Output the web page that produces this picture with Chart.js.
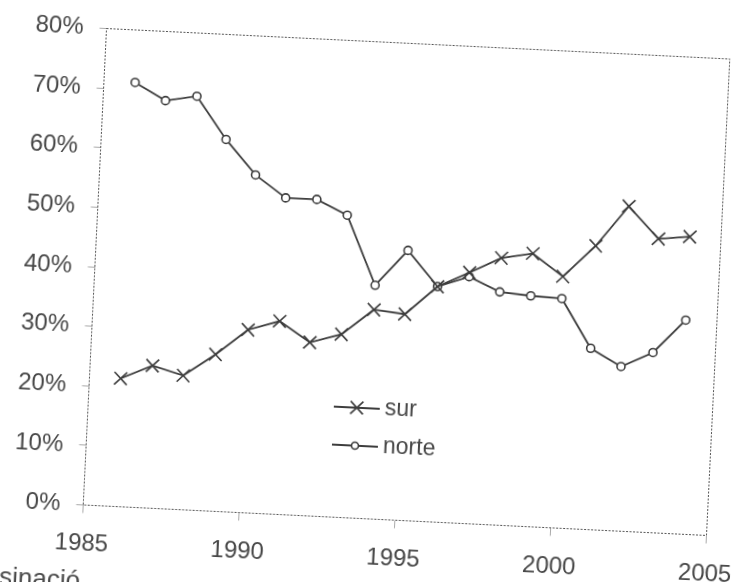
<!DOCTYPE html>
<html>
<head>
<meta charset="utf-8">
<script src="https://cdn.jsdelivr.net/npm/chart.js@4/dist/chart.umd.min.js"></script>
<style>
  html, body { margin: 0; padding: 0; background: #fff; overflow: hidden; width: 736px; height: 582px; }
  #wrap { position: absolute; left: 0; top: 0; width: 800px; height: 640px;
          transform: rotate(2.8deg); transform-origin: 406.5px 282px; }
  #note { position: absolute; left: 0; top: 561px; font: 26px "Liberation Sans", Arial, sans-serif;
          color: #4a4a4a; transform: rotate(2.8deg); transform-origin: 0 0; white-space: nowrap; }
</style>
</head>
<body>
<div id="wrap"><canvas id="chart" width="800" height="640"></canvas></div>
<div id="note">sinació</div>
<script>
const years = [1986, 1987, 1988, 1989, 1990, 1991, 1992, 1993, 1994, 1995,
               1996, 1997, 1998, 1999, 2000, 2001, 2002, 2003, 2004];
const sur = [21.5, 23.9, 22.5, 26.3, 30.7, 32.4, 29.1, 30.7, 35.1, 34.6,
             39.5, 42.1, 44.8, 45.8, 42.2, 47.6, 54.5, 49.3, 49.9];
const norte = [71.2, 68.4, 69.4, 62.4, 56.7, 53.1, 53.1, 50.7, 39.2, 45.3,
               39.5, 41.4, 39.1, 38.7, 38.5, 30.4, 27.6, 30.2, 35.9];
const xTicks = [1985, 1990, 1995, 2000, 2005];
const yTicks = [0, 10, 20, 30, 40, 50, 60, 70, 80];

const textColor = "#474747";
const lineColor = "#3d3d3d";
const font = { family: "'Liberation Sans', Arial, sans-serif", size: 24 };

// dotted frame around the plot area
const framePlugin = {
  id: "frame",
  beforeDatasetsDraw(chart) {
    const { ctx, chartArea: a } = chart;
    ctx.save();
    ctx.strokeStyle = "#555";
    ctx.lineWidth = 1;
    ctx.setLineDash([2, 1.5]);
    ctx.strokeRect(a.left, a.top, a.right - a.left, a.bottom - a.top);
    ctx.restore();
  }
};

// legend drawn inside the plot, line with marker like the original
const legendPlugin = {
  id: "insideLegend",
  afterDraw(chart) {
    const ctx = chart.ctx;
    ctx.save();
    chart.data.datasets.forEach((d, i) => {
      const y = 410 + i * 38;
      const x0 = 340, x1 = 386;
      ctx.strokeStyle = d.borderColor;
      ctx.lineWidth = d.borderWidth;
      ctx.beginPath();
      ctx.moveTo(x0, y);
      ctx.lineTo(x1, y);
      ctx.stroke();
      ctx.fillStyle = d.pointBackgroundColor;
      ctx.strokeStyle = d.pointBorderColor;
      ctx.lineWidth = d.pointBorderWidth;
      Chart.helpers.drawPoint(ctx, {
        pointStyle: d.pointStyle,
        radius: d.pointStyle === "circle" ? 3.5 : d.pointRadius,
        borderWidth: d.pointBorderWidth,
        rotation: 0
      }, (x0 + x1) / 2, y);
      ctx.fillStyle = textColor;
      ctx.font = "23px 'Liberation Sans', Arial, sans-serif";
      ctx.textBaseline = "alphabetic";
      ctx.fillText(d.label, x1 + 5, y + 6);
    });
    ctx.restore();
  }
};

new Chart(document.getElementById("chart"), {
  type: "line",
  data: {
    datasets: [
      {
        label: "sur",
        data: years.map((y, i) => ({ x: y, y: sur[i] })),
        borderColor: lineColor,
        borderWidth: 1.8,
        pointStyle: "crossRot",
        pointRadius: 9,
        pointBorderWidth: 1.6,
        pointBorderColor: lineColor,
        pointBackgroundColor: lineColor,
        tension: 0
      },
      {
        label: "norte",
        data: years.map((y, i) => ({ x: y, y: norte[i] })),
        borderColor: lineColor,
        borderWidth: 1.8,
        pointStyle: "circle",
        pointRadius: 4,
        pointBorderWidth: 1.6,
        pointBorderColor: lineColor,
        pointBackgroundColor: "#fff",
        tension: 0
      }
    ]
  },
  options: {
    responsive: false,
    animation: false,
    layout: { padding: { left: 0, top: 43.5, right: 81.5, bottom: 58 } },
    plugins: { legend: { display: false }, tooltip: { enabled: false } },
    scales: {
      x: {
        type: "linear",
        min: 1985,
        max: 2005,
        afterBuildTicks: s => { s.ticks = xTicks.map(v => ({ value: v })); },
        afterFit: s => { s.height = 61.5; s.paddingLeft = 0; s.paddingRight = 0; },
        border: { display: false },
        grid: { drawOnChartArea: false, drawTicks: true, tickLength: 8, color: "#aaa" },
        ticks: { color: textColor, font, padding: 16, maxRotation: 0, callback: v => String(v) }
      },
      y: {
        min: 0,
        max: 80,
        afterBuildTicks: s => { s.ticks = yTicks.map(v => ({ value: v })); },
        afterFit: s => { s.width = 94.5; s.paddingTop = 0; s.paddingBottom = 0; },
        border: { display: false },
        grid: { drawOnChartArea: false, drawTicks: true, tickLength: 7, color: "#aaa" },
        ticks: { color: textColor, font, padding: 16, callback: v => v + "%" }
      }
    }
  },
  plugins: [framePlugin, legendPlugin]
});
</script>
</body>
</html>
